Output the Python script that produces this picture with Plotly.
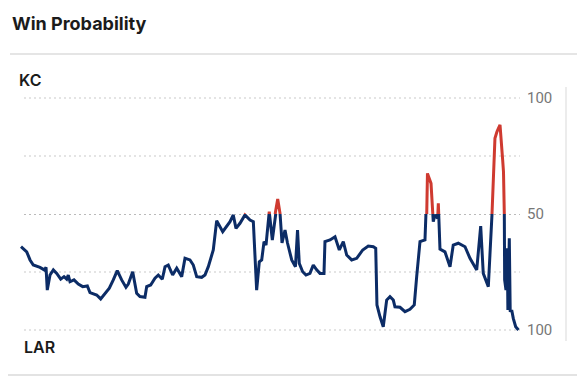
import plotly.graph_objects as go

# Game clock elapsed (minutes) and Kansas City win probability (%)
minutes = [0.00, 0.69, 1.09, 1.48, 2.29, 2.81, 3.02, 3.17, 3.50, 3.90, 4.31, 4.79, 5.19, 5.51, 5.70,
           5.91, 6.39, 6.91, 7.44, 8.00, 8.32, 9.13, 9.61, 10.13, 10.65, 11.13, 11.61, 12.14, 12.66,
           12.94, 13.47, 13.95, 14.35, 14.95, 15.16, 15.64, 16.16, 16.56, 17.04, 17.37, 17.76, 18.29,
           18.78, 19.38, 19.78, 20.38, 20.78, 21.19, 21.79, 22.19, 22.59, 23.19, 23.60, 24.33, 24.81,
           25.21, 25.60, 25.93, 26.41, 27.01, 27.62, 28.02, 28.42, 28.74, 29.03, 29.31, 29.55, 29.94,
           30.31, 30.69, 30.96, 31.24, 31.48, 31.84, 32.14, 32.65, 33.10, 33.35, 33.56, 33.97, 34.37,
           34.85, 35.25, 35.66, 36.06, 36.54, 36.66, 37.27, 37.87, 38.39, 38.87, 39.28, 39.88, 40.49,
           41.21, 41.88, 42.49, 42.78, 42.93, 43.30, 43.69, 44.10, 44.50, 44.90, 45.10, 45.71, 46.31,
           46.91, 47.43, 47.72, 48.12, 48.72, 48.93, 49.02, 49.45, 49.72, 49.93, 50.25, 50.33, 50.53,
           51.13, 51.74, 52.13, 52.74, 53.55, 54.15, 54.96, 55.44, 55.75, 56.36, 56.80, 57.16, 57.41,
           57.77, 58.09, 58.19, 58.29, 58.33, 58.49, 58.65, 58.72, 58.89, 59.00, 59.18, 59.37, 59.66,
           60.00]
kc_win_pct = [35.9, 33.7, 30.2, 28.0, 27.0, 25.9, 27.0, 17.2, 23.7, 25.9, 24.4, 21.9, 23.0, 21.9, 23.7,
              20.8, 21.6, 19.8, 18.7, 19.0, 16.1, 15.1, 13.4, 15.8, 18.0, 21.6, 25.6, 21.6, 18.4,
              19.8, 25.1, 15.8, 14.4, 14.1, 18.7, 19.4, 22.3, 23.7, 21.9, 27.3, 28.0, 23.7,
              26.6, 23.0, 30.9, 30.2, 28.0, 23.0, 22.7, 23.7, 27.3, 34.5, 47.1, 42.4, 44.5,
              46.7, 49.6, 43.8, 46.0, 49.6, 47.4, 46.7, 17.2, 29.4, 30.2, 38.1, 36.6, 51.0,
              38.8, 50.9, 56.5, 50.3, 37.5, 43.1, 37.5, 30.2, 27.3, 43.1, 28.7, 25.1, 23.7,
              24.4, 28.0, 25.9, 24.4, 24.4, 38.1, 38.8, 40.2, 34.5, 38.1, 32.3, 30.2, 30.9,
              34.5, 36.2, 35.9, 35.2, 10.8, 5.7, 1.4, 12.9, 14.4, 12.9, 10.0, 9.8, 7.9,
              8.9, 10.8, 23.0, 38.1, 38.8, 49.6, 67.5, 63.2, 46.7, 49.6, 48.1, 54.6, 34.9,
              33.7, 27.3, 36.6, 37.4, 35.9, 30.9, 25.9, 44.8, 24.4, 18.7, 49.6, 82.6, 85.5,
              88.4, 73.3, 68.2, 49.6, 21.6, 17.2, 35.2, 8.6, 39.5, 7.9, 8.6, 5.0, 1.4,
              0.0]

tick_vals_low = [0, 50]
tick_text_low = ["100", "50"]
tick_vals_high = [100]
tick_text_high = ["100"]
grid_low = [0, 25]
grid_high = [75, 100]
split_value = 50

NAVY = "#0c2c66"
RED = "#cf3a30"

# The page body adds an 8px offset; layout below is expressed in window pixels.
OFF = 8
WIN_W, WIN_H = 585, 377
W, H = WIN_W - OFF, WIN_H - OFF

# plot area in window pixels
PL, PR, PT, PB = 17, 520, 85, 340
L, R, T, B = PL - OFF, W - (PR - OFF), PT - OFF, H - (PB - OFF)
pw, ph = PR - PL, PB - PT


def fx(px):
    return (px - PL) / pw


def fy(py):
    return (PB - py) / ph


px_per_pct = 2.32
split_px = 98 + 50 * px_per_pct  # window y of the 50 line
split_frac = fy(split_px)
low_range = [split_value - (PB - split_px) / px_per_pct, split_value]
high_range = [split_value, split_value + (split_px - PT) / px_per_pct]

px_per_min = (518.5 - 21) / 60
x_left = -(21 - PL) / px_per_min
x_right = (PR - 21) / px_per_min

fig = go.Figure()
fig.add_trace(go.Scatter(x=minutes, y=kc_win_pct, mode="lines", xaxis="x", yaxis="y",
                         line=dict(color=NAVY, width=3), hoverinfo="skip", showlegend=False))
fig.add_trace(go.Scatter(x=minutes, y=kc_win_pct, mode="lines", xaxis="x", yaxis="y2",
                         line=dict(color=RED, width=3), hoverinfo="skip", showlegend=False))

shapes = []
gx0 = fx(24)
for v in grid_low:
    shapes.append(dict(type="line", xref="paper", yref="y", x0=gx0, x1=1, y0=v, y1=v,
                       line=dict(color="#c9c9c9", width=1, dash="2px,3px"), layer="below"))
for v in grid_high:
    shapes.append(dict(type="line", xref="paper", yref="y2", x0=gx0, x1=1, y0=v, y1=v,
                       line=dict(color="#c9c9c9", width=1, dash="2px,3px"), layer="below"))
shapes.append(dict(type="line", xref="paper", yref="y", x0=gx0, x1=1, y0=split_value, y1=split_value,
                   line=dict(color="#777777", width=1, dash="2px,3px"), layer="below"))
shapes.append(dict(type="line", xref="paper", yref="paper", x0=fx(10), x1=fx(WIN_W),
                   y0=fy(54), y1=fy(54), line=dict(color="#dddddd", width=1.5)))
shapes.append(dict(type="line", xref="paper", yref="paper", x0=fx(566), x1=fx(566),
                   y0=fy(87), y1=fy(341), line=dict(color="#e6e6e6", width=1.5)))
shapes.append(dict(type="line", xref="paper", yref="paper", x0=fx(OFF), x1=fx(WIN_W),
                   y0=fy(375), y1=fy(375), line=dict(color="#e3e3e3", width=2)))

annotations = [
    dict(text="<b>Win Probability</b>", xref="paper", yref="paper", x=fx(10), y=fy(24),
         xanchor="left", yanchor="middle", showarrow=False,
         font=dict(family="Inter", size=18, color="#1b1b1b")),
    dict(text="KC", xref="paper", yref="paper", x=fx(17), y=fy(80),
         xanchor="left", yanchor="middle", showarrow=False,
         font=dict(family="Inter", size=16, color="#1b1b1b", weight=600)),
    dict(text="LAR", xref="paper", yref="paper", x=fx(22), y=fy(347),
         xanchor="left", yanchor="middle", showarrow=False,
         font=dict(family="Inter", size=16, color="#1b1b1b", weight=600)),
]

fig.update_layout(
    width=W, height=H,
    margin=dict(l=L, r=R, t=T, b=B),
    paper_bgcolor="white", plot_bgcolor="rgba(0,0,0,0)",
    xaxis=dict(range=[x_left, x_right], visible=False, anchor="y"),
    yaxis=dict(domain=[0, split_frac], range=low_range, side="right", tickvals=tick_vals_low,
               ticktext=tick_text_low, showgrid=False, zeroline=False, showline=False,
               ticks="outside", ticklen=3, tickcolor="rgba(0,0,0,0)",
               tickfont=dict(family="Roboto", size=15, color="#777777")),
    yaxis2=dict(domain=[split_frac, 1], range=high_range, side="right", tickvals=tick_vals_high,
                ticktext=tick_text_high, showgrid=False, zeroline=False, showline=False,
                anchor="x", ticks="outside", ticklen=3, tickcolor="rgba(0,0,0,0)",
                tickfont=dict(family="Roboto", size=15, color="#777777")),
    shapes=shapes,
    annotations=annotations,
)

fig.write_html("out.html")
